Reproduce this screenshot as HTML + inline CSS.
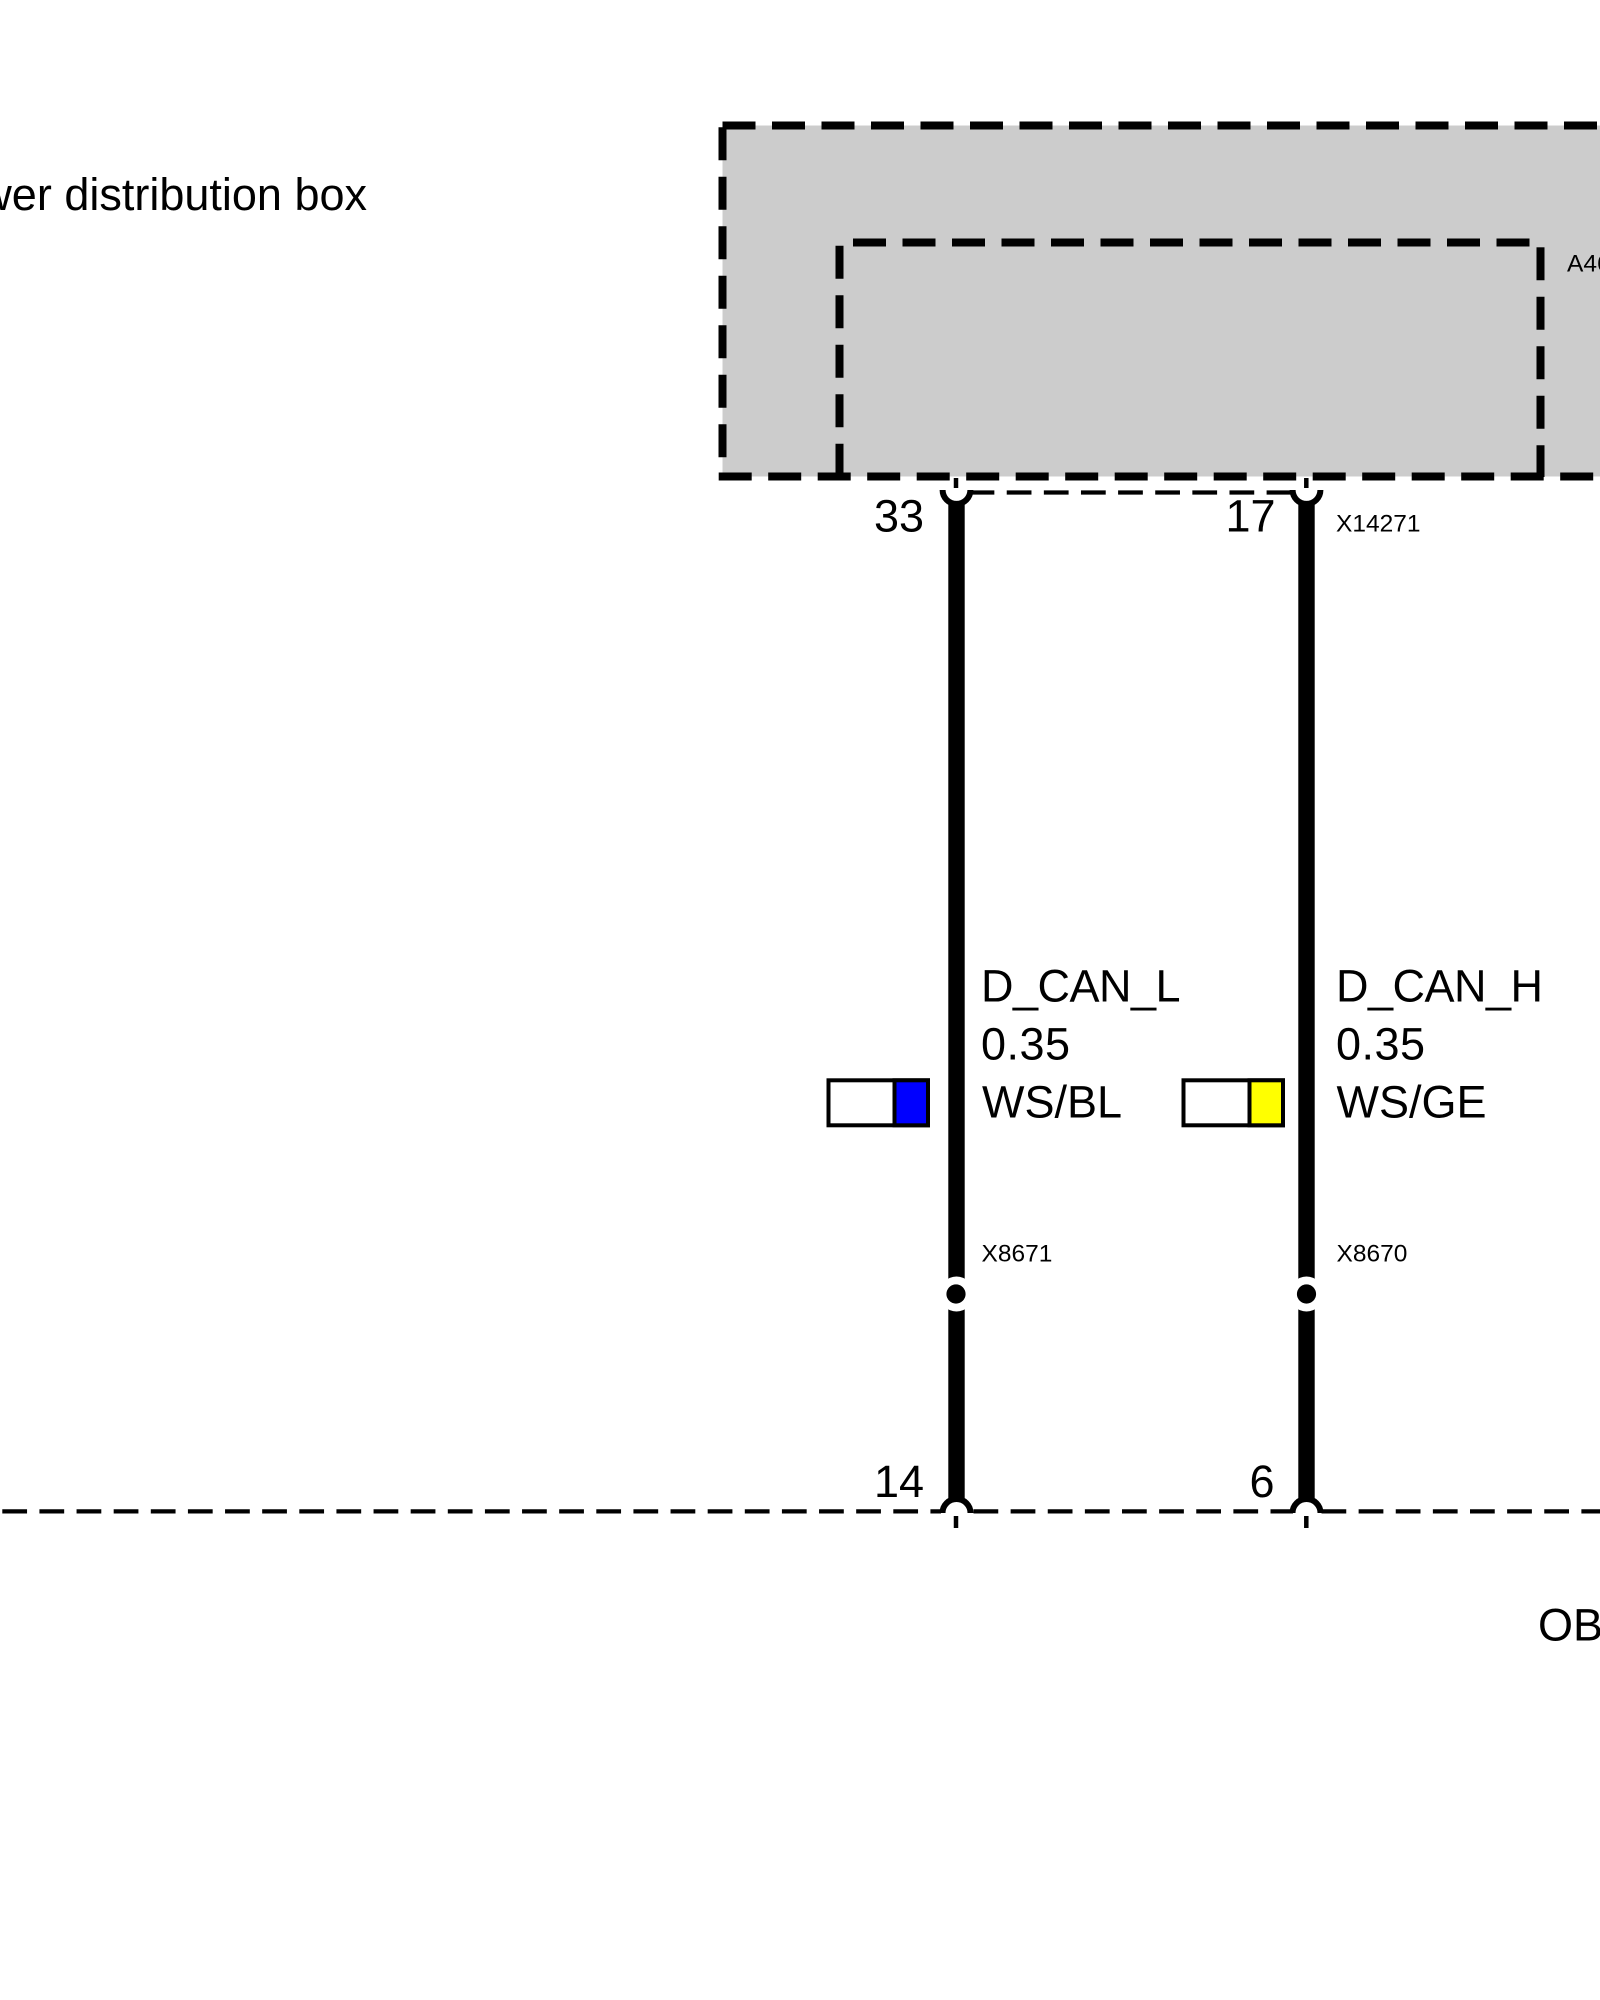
<!DOCTYPE html>
<html>
<head>
<meta charset="utf-8">
<style>
html,body{margin:0;padding:0;background:#fff;}
svg{display:block;overflow:hidden;}
text{font-family:"Liberation Sans",Arial,sans-serif;fill:#000;}
.b{font-size:45px;}
.s{font-size:24.5px;}
</style>
</head>
<body>
<svg xmlns="http://www.w3.org/2000/svg" width="1600" height="2000" viewBox="0 0 1600 2000">
<rect width="1600" height="2000" fill="#fff"/>
<!-- grey housing -->
<rect x="722.5" y="125.5" width="877.5" height="351" fill="#ccc"/>
<!-- thick dashed borders -->
<g fill="none" stroke="#000" stroke-width="8" stroke-dasharray="33 16.5">
<path d="M722.5 125.5H1600"/>
<path d="M722.5 127.3V473"/>
<path d="M718.7 476.5H1600"/>
<path d="M853 242.5H1530"/>
<path d="M839.5 245.7V477"/>
<path d="M1540.5 247.3V477"/>
</g>
<!-- thin dashed connector lines -->
<g fill="none" stroke="#000" stroke-width="4.2" stroke-dasharray="24.75 12.375">
<path d="M969.6 492.5H1292"/>
<path d="M2.3 1511.4H941"/>
<path d="M973.5 1511.4H1293"/>
<path d="M1321.5 1511.4H1600"/>
</g>
<!-- wires -->
<g stroke="#000" stroke-width="16.4" fill="none">
<path d="M956.5 503V1500"/>
<path d="M1306.5 503V1500"/>
</g>
<!-- top forks -->
<g fill="none" stroke="#000" stroke-width="6">
<path d="M942.6 490A13.9 13.9 0 0 0 970.4 490"/>
<path d="M1292.6 490A13.9 13.9 0 0 0 1320.4 490"/>
<path d="M942.5 1513A14 14 0 0 1 970.5 1513"/>
<path d="M1292.5 1513A14 14 0 0 1 1320.5 1513"/>
</g>
<!-- pin ticks -->
<g stroke="#000" stroke-width="4.5" fill="none">
<path d="M956 478V488"/>
<path d="M1306.3 478V488"/>
<path d="M956 1516V1528"/>
<path d="M1306.3 1516V1528"/>
</g>
<!-- splice dots -->
<circle cx="956.5" cy="1294" r="17.5" fill="#fff"/>
<circle cx="1306.5" cy="1294" r="17.5" fill="#fff"/>
<circle cx="956" cy="1294" r="9.6" fill="#000"/>
<circle cx="1306.5" cy="1294" r="9.6" fill="#000"/>
<!-- colour swatches -->
<g stroke="#000" stroke-width="4">
<rect x="828.5" y="1080.3" width="99.5" height="45" fill="#fff"/>
<rect x="894.5" y="1080.3" width="33.5" height="45" fill="#0000ff"/>
<rect x="1183.5" y="1080.3" width="99.5" height="45" fill="#fff"/>
<rect x="1249.5" y="1080.3" width="33.5" height="45" fill="#ffff00"/>
</g>
<!-- labels -->
<text class="b" x="367" y="210" text-anchor="end">Power distribution box</text>
<text class="b" x="924" y="531.7" text-anchor="end">33</text>
<text class="b" x="1275.5" y="531.7" text-anchor="end">17</text>
<text class="b" x="924" y="1497.2" text-anchor="end">14</text>
<text class="b" x="1274.5" y="1497.2" text-anchor="end">6</text>
<text class="b" x="981" y="1001.7" textLength="199.5">D_CAN_L</text>
<text class="b" x="981" y="1059.5" textLength="89">0.35</text>
<text class="b" x="982" y="1117.3">WS/BL</text>
<text class="b" x="1336" y="1001.7" textLength="207">D_CAN_H</text>
<text class="b" x="1336" y="1059.5" textLength="89">0.35</text>
<text class="b" x="1336.5" y="1117.3">WS/GE</text>
<text class="b" x="1538" y="1640.7">OBD</text>
<text class="s" x="1567" y="271.7">A46</text>
<text class="s" x="1336" y="531.7">X14271</text>
<text class="s" x="981.5" y="1261.5">X8671</text>
<text class="s" x="1336.5" y="1261.5">X8670</text>
</svg>
</body>
</html>
